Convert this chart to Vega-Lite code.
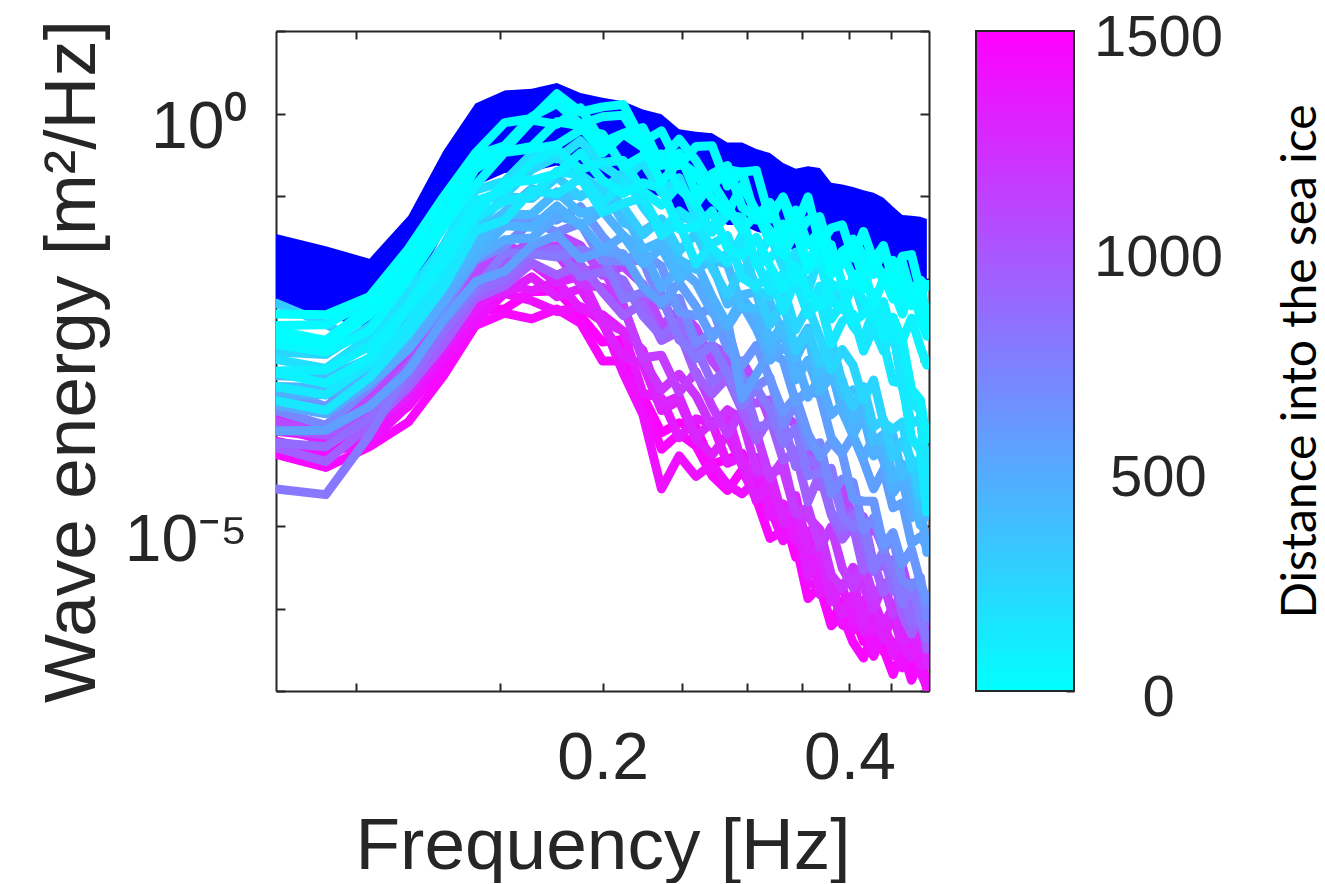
{
"$schema": "https://vega.github.io/schema/vega-lite/v6.json",
"background": "white",
"padding": {"left": 36, "top": 9, "right": 8, "bottom": 0},
"config": {
  "view": {"stroke": null},
  "font": "Liberation Sans",
  "axis": {"grid": false, "domainColor": "#262626", "domainWidth": 2, "tickColor": "#262626", "tickWidth": 2, "labelColor": "#262626", "titleColor": "#262626", "labelFont": "Liberation Sans", "titleFont": "Liberation Sans", "titleFontWeight": "normal", "labelOverlap": false, "labelFlush": false}
},
"datasets": {
"band": [
{"f":0.08,"hi":-1.46,"lo":-2.31},{"f":0.092,"hi":-1.61,"lo":-2.46},{"f":0.104,"hi":-1.76,"lo":-2.61},{"f":0.116,"hi":-1.24,"lo":-2.24},{"f":0.128,"hi":-0.45,"lo":-1.45},{"f":0.14,"hi":0.12,"lo":-0.88},{"f":0.152,"hi":0.28,"lo":-0.72},{"f":0.164,"hi":0.30,"lo":-0.70},{"f":0.176,"hi":0.37,"lo":-0.63},{"f":0.188,"hi":0.25,"lo":-0.75},{"f":0.2,"hi":0.19,"lo":-0.81},{"f":0.212,"hi":0.15,"lo":-0.85},{"f":0.224,"hi":0.05,"lo":-0.95},{"f":0.236,"hi":-0.01,"lo":-1.01},{"f":0.248,"hi":-0.19,"lo":-1.19},{"f":0.26,"hi":-0.22,"lo":-1.22},{"f":0.272,"hi":-0.24,"lo":-1.24},{"f":0.284,"hi":-0.35,"lo":-1.35},{"f":0.296,"hi":-0.35,"lo":-1.35},{"f":0.308,"hi":-0.43,"lo":-1.43},{"f":0.32,"hi":-0.48,"lo":-1.48},{"f":0.332,"hi":-0.60,"lo":-1.60},{"f":0.344,"hi":-0.67,"lo":-1.67},{"f":0.356,"hi":-0.64,"lo":-1.64},{"f":0.368,"hi":-0.66,"lo":-1.66},{"f":0.38,"hi":-0.84,"lo":-1.84},{"f":0.392,"hi":-0.86,"lo":-1.86},{"f":0.404,"hi":-0.89,"lo":-1.89},{"f":0.416,"hi":-0.93,"lo":-1.93},{"f":0.428,"hi":-0.96,"lo":-1.96},{"f":0.44,"hi":-1.02,"lo":-2.02},{"f":0.452,"hi":-1.13,"lo":-2.13},{"f":0.464,"hi":-1.23,"lo":-2.23},{"f":0.476,"hi":-1.24,"lo":-2.24},{"f":0.488,"hi":-1.25,"lo":-2.25},{"f":0.497,"hi":-1.28,"lo":-2.28}
],
"bar": [{"lo": 0, "hi": 1500}],
"spectra": [
{"d":1500,"f":0.08,"e":-3.98},{"d":1500,"f":0.092,"e":-4.07},{"d":1500,"f":0.104,"e":-3.85},{"d":1500,"f":0.116,"e":-3.55},{"d":1500,"f":0.128,"e":-3.03},{"d":1500,"f":0.14,"e":-2.39},{"d":1500,"f":0.152,"e":-2.37},{"d":1500,"f":0.164,"e":-2.16},{"d":1500,"f":0.176,"e":-2.15},{"d":1500,"f":0.188,"e":-2.45},{"d":1500,"f":0.2,"e":-2.77},{"d":1500,"f":0.212,"e":-2.74},{"d":1500,"f":0.224,"e":-3.42},{"d":1500,"f":0.236,"e":-3.87},{"d":1500,"f":0.248,"e":-3.75},{"d":1500,"f":0.26,"e":-3.80},{"d":1500,"f":0.272,"e":-4.25},{"d":1500,"f":0.284,"e":-4.19},{"d":1500,"f":0.296,"e":-4.12},{"d":1500,"f":0.308,"e":-4.70},{"d":1500,"f":0.32,"e":-4.88},{"d":1500,"f":0.332,"e":-4.83},{"d":1500,"f":0.344,"e":-5.38},{"d":1500,"f":0.356,"e":-5.28},{"d":1500,"f":0.368,"e":-5.74},{"d":1500,"f":0.38,"e":-6.17},{"d":1500,"f":0.392,"e":-5.91},{"d":1500,"f":0.404,"e":-6.05},{"d":1500,"f":0.416,"e":-6.40},{"d":1500,"f":0.428,"e":-6.09},{"d":1500,"f":0.44,"e":-6.52},{"d":1500,"f":0.452,"e":-6.53},{"d":1500,"f":0.464,"e":-6.31},{"d":1500,"f":0.476,"e":-6.77},{"d":1500,"f":0.488,"e":-6.56},{"d":1500,"f":0.497,"e":-6.95},
{"d":1450,"f":0.08,"e":-4.13},{"d":1450,"f":0.092,"e":-4.29},{"d":1450,"f":0.104,"e":-4.04},{"d":1450,"f":0.116,"e":-3.74},{"d":1450,"f":0.128,"e":-3.18},{"d":1450,"f":0.14,"e":-2.57},{"d":1450,"f":0.152,"e":-2.42},{"d":1450,"f":0.164,"e":-2.49},{"d":1450,"f":0.176,"e":-2.37},{"d":1450,"f":0.188,"e":-2.54},{"d":1450,"f":0.2,"e":-3.00},{"d":1450,"f":0.212,"e":-3.00},{"d":1450,"f":0.224,"e":-3.46},{"d":1450,"f":0.236,"e":-4.07},{"d":1450,"f":0.248,"e":-3.88},{"d":1450,"f":0.26,"e":-4.03},{"d":1450,"f":0.272,"e":-4.39},{"d":1450,"f":0.284,"e":-4.57},{"d":1450,"f":0.296,"e":-4.32},{"d":1450,"f":0.308,"e":-4.67},{"d":1450,"f":0.32,"e":-5.15},{"d":1450,"f":0.332,"e":-5.06},{"d":1450,"f":0.344,"e":-5.21},{"d":1450,"f":0.356,"e":-5.88},{"d":1450,"f":0.368,"e":-5.73},{"d":1450,"f":0.38,"e":-6.21},{"d":1450,"f":0.392,"e":-6.08},{"d":1450,"f":0.404,"e":-6.41},{"d":1450,"f":0.416,"e":-6.60},{"d":1450,"f":0.428,"e":-6.29},{"d":1450,"f":0.44,"e":-6.49},{"d":1450,"f":0.452,"e":-6.80},{"d":1450,"f":0.464,"e":-6.51},{"d":1450,"f":0.476,"e":-6.87},{"d":1450,"f":0.488,"e":-6.62},{"d":1450,"f":0.497,"e":-6.98},
{"d":1400,"f":0.08,"e":-3.97},{"d":1400,"f":0.092,"e":-4.12},{"d":1400,"f":0.104,"e":-3.98},{"d":1400,"f":0.116,"e":-3.54},{"d":1400,"f":0.128,"e":-2.98},{"d":1400,"f":0.14,"e":-2.52},{"d":1400,"f":0.152,"e":-2.18},{"d":1400,"f":0.164,"e":-2.27},{"d":1400,"f":0.176,"e":-2.40},{"d":1400,"f":0.188,"e":-2.34},{"d":1400,"f":0.2,"e":-2.52},{"d":1400,"f":0.212,"e":-3.15},{"d":1400,"f":0.224,"e":-3.65},{"d":1400,"f":0.236,"e":-4.55},{"d":1400,"f":0.248,"e":-4.15},{"d":1400,"f":0.26,"e":-4.40},{"d":1400,"f":0.272,"e":-4.25},{"d":1400,"f":0.284,"e":-4.50},{"d":1400,"f":0.296,"e":-4.61},{"d":1400,"f":0.308,"e":-4.45},{"d":1400,"f":0.32,"e":-4.77},{"d":1400,"f":0.332,"e":-5.18},{"d":1400,"f":0.344,"e":-4.99},{"d":1400,"f":0.356,"e":-5.69},{"d":1400,"f":0.368,"e":-5.73},{"d":1400,"f":0.38,"e":-5.66},{"d":1400,"f":0.392,"e":-6.20},{"d":1400,"f":0.404,"e":-6.26},{"d":1400,"f":0.416,"e":-6.09},{"d":1400,"f":0.428,"e":-6.58},{"d":1400,"f":0.44,"e":-6.27},{"d":1400,"f":0.452,"e":-6.42},{"d":1400,"f":0.464,"e":-6.72},{"d":1400,"f":0.476,"e":-6.38},{"d":1400,"f":0.488,"e":-6.77},{"d":1400,"f":0.497,"e":-6.95},
{"d":1350,"f":0.08,"e":-3.85},{"d":1350,"f":0.092,"e":-3.92},{"d":1350,"f":0.104,"e":-3.82},{"d":1350,"f":0.116,"e":-3.42},{"d":1350,"f":0.128,"e":-2.86},{"d":1350,"f":0.14,"e":-2.38},{"d":1350,"f":0.152,"e":-2.07},{"d":1350,"f":0.164,"e":-2.15},{"d":1350,"f":0.176,"e":-2.03},{"d":1350,"f":0.188,"e":-2.37},{"d":1350,"f":0.2,"e":-2.44},{"d":1350,"f":0.212,"e":-2.64},{"d":1350,"f":0.224,"e":-3.39},{"d":1350,"f":0.236,"e":-3.45},{"d":1350,"f":0.248,"e":-3.93},{"d":1350,"f":0.26,"e":-3.70},{"d":1350,"f":0.272,"e":-3.75},{"d":1350,"f":0.284,"e":-4.24},{"d":1350,"f":0.296,"e":-4.16},{"d":1350,"f":0.308,"e":-4.17},{"d":1350,"f":0.32,"e":-4.88},{"d":1350,"f":0.332,"e":-4.73},{"d":1350,"f":0.344,"e":-5.18},{"d":1350,"f":0.356,"e":-5.06},{"d":1350,"f":0.368,"e":-5.83},{"d":1350,"f":0.38,"e":-5.71},{"d":1350,"f":0.392,"e":-5.73},{"d":1350,"f":0.404,"e":-6.18},{"d":1350,"f":0.416,"e":-5.90},{"d":1350,"f":0.428,"e":-6.29},{"d":1350,"f":0.44,"e":-6.12},{"d":1350,"f":0.452,"e":-6.57},{"d":1350,"f":0.464,"e":-6.27},{"d":1350,"f":0.476,"e":-6.25},{"d":1350,"f":0.488,"e":-6.69},{"d":1350,"f":0.497,"e":-6.58},
{"d":1320,"f":0.08,"e":-3.80},{"d":1320,"f":0.092,"e":-3.97},{"d":1320,"f":0.104,"e":-3.71},{"d":1320,"f":0.116,"e":-3.37},{"d":1320,"f":0.128,"e":-2.85},{"d":1320,"f":0.14,"e":-2.23},{"d":1320,"f":0.152,"e":-2.18},{"d":1320,"f":0.164,"e":-1.98},{"d":1320,"f":0.176,"e":-2.22},{"d":1320,"f":0.188,"e":-2.12},{"d":1320,"f":0.2,"e":-2.55},{"d":1320,"f":0.212,"e":-2.95},{"d":1320,"f":0.224,"e":-3.04},{"d":1320,"f":0.236,"e":-3.60},{"d":1320,"f":0.248,"e":-3.48},{"d":1320,"f":0.26,"e":-3.95},{"d":1320,"f":0.272,"e":-4.14},{"d":1320,"f":0.284,"e":-3.89},{"d":1320,"f":0.296,"e":-4.27},{"d":1320,"f":0.308,"e":-4.68},{"d":1320,"f":0.32,"e":-4.47},{"d":1320,"f":0.332,"e":-4.98},{"d":1320,"f":0.344,"e":-4.89},{"d":1320,"f":0.356,"e":-5.61},{"d":1320,"f":0.368,"e":-5.34},{"d":1320,"f":0.38,"e":-5.82},{"d":1320,"f":0.392,"e":-6.08},{"d":1320,"f":0.404,"e":-5.83},{"d":1320,"f":0.416,"e":-6.29},{"d":1320,"f":0.428,"e":-6.08},{"d":1320,"f":0.44,"e":-6.37},{"d":1320,"f":0.452,"e":-6.08},{"d":1320,"f":0.464,"e":-6.46},{"d":1320,"f":0.476,"e":-6.60},{"d":1320,"f":0.488,"e":-6.34},{"d":1320,"f":0.497,"e":-6.69},
{"d":1280,"f":0.08,"e":-3.70},{"d":1280,"f":0.092,"e":-3.88},{"d":1280,"f":0.104,"e":-3.60},{"d":1280,"f":0.116,"e":-3.25},{"d":1280,"f":0.128,"e":-2.76},{"d":1280,"f":0.14,"e":-2.12},{"d":1280,"f":0.152,"e":-2.05},{"d":1280,"f":0.164,"e":-1.82},{"d":1280,"f":0.176,"e":-2.05},{"d":1280,"f":0.188,"e":-1.97},{"d":1280,"f":0.2,"e":-2.52},{"d":1280,"f":0.212,"e":-2.64},{"d":1280,"f":0.224,"e":-2.87},{"d":1280,"f":0.236,"e":-3.52},{"d":1280,"f":0.248,"e":-3.43},{"d":1280,"f":0.26,"e":-3.92},{"d":1280,"f":0.272,"e":-3.74},{"d":1280,"f":0.284,"e":-3.64},{"d":1280,"f":0.296,"e":-4.24},{"d":1280,"f":0.308,"e":-4.38},{"d":1280,"f":0.32,"e":-4.33},{"d":1280,"f":0.332,"e":-4.91},{"d":1280,"f":0.344,"e":-4.63},{"d":1280,"f":0.356,"e":-5.29},{"d":1280,"f":0.368,"e":-5.31},{"d":1280,"f":0.38,"e":-5.92},{"d":1280,"f":0.392,"e":-5.70},{"d":1280,"f":0.404,"e":-5.66},{"d":1280,"f":0.416,"e":-6.15},{"d":1280,"f":0.428,"e":-5.91},{"d":1280,"f":0.44,"e":-6.20},{"d":1280,"f":0.452,"e":-5.98},{"d":1280,"f":0.464,"e":-6.39},{"d":1280,"f":0.476,"e":-6.38},{"d":1280,"f":0.488,"e":-6.21},{"d":1280,"f":0.497,"e":-6.66},
{"d":1200,"f":0.08,"e":-3.54},{"d":1200,"f":0.092,"e":-3.59},{"d":1200,"f":0.104,"e":-3.42},{"d":1200,"f":0.116,"e":-3.10},{"d":1200,"f":0.128,"e":-2.49},{"d":1200,"f":0.14,"e":-1.96},{"d":1200,"f":0.152,"e":-1.90},{"d":1200,"f":0.164,"e":-1.68},{"d":1200,"f":0.176,"e":-1.70},{"d":1200,"f":0.188,"e":-2.07},{"d":1200,"f":0.2,"e":-2.11},{"d":1200,"f":0.212,"e":-2.32},{"d":1200,"f":0.224,"e":-2.99},{"d":1200,"f":0.236,"e":-3.35},{"d":1200,"f":0.248,"e":-3.16},{"d":1200,"f":0.26,"e":-3.42},{"d":1200,"f":0.272,"e":-3.80},{"d":1200,"f":0.284,"e":-3.59},{"d":1200,"f":0.296,"e":-3.71},{"d":1200,"f":0.308,"e":-4.32},{"d":1200,"f":0.32,"e":-4.35},{"d":1200,"f":0.332,"e":-4.31},{"d":1200,"f":0.344,"e":-4.86},{"d":1200,"f":0.356,"e":-4.89},{"d":1200,"f":0.368,"e":-5.04},{"d":1200,"f":0.38,"e":-5.59},{"d":1200,"f":0.392,"e":-5.76},{"d":1200,"f":0.404,"e":-5.50},{"d":1200,"f":0.416,"e":-5.74},{"d":1200,"f":0.428,"e":-6.01},{"d":1200,"f":0.44,"e":-5.70},{"d":1200,"f":0.452,"e":-6.08},{"d":1200,"f":0.464,"e":-5.89},{"d":1200,"f":0.476,"e":-6.28},{"d":1200,"f":0.488,"e":-6.11},{"d":1200,"f":0.497,"e":-6.16},
{"d":1150,"f":0.08,"e":-3.35},{"d":1150,"f":0.092,"e":-3.41},{"d":1150,"f":0.104,"e":-3.33},{"d":1150,"f":0.116,"e":-2.94},{"d":1150,"f":0.128,"e":-2.35},{"d":1150,"f":0.14,"e":-1.89},{"d":1150,"f":0.152,"e":-1.60},{"d":1150,"f":0.164,"e":-1.71},{"d":1150,"f":0.176,"e":-1.60},{"d":1150,"f":0.188,"e":-1.92},{"d":1150,"f":0.2,"e":-1.87},{"d":1150,"f":0.212,"e":-2.35},{"d":1150,"f":0.224,"e":-2.96},{"d":1150,"f":0.236,"e":-2.93},{"d":1150,"f":0.248,"e":-3.38},{"d":1150,"f":0.26,"e":-3.13},{"d":1150,"f":0.272,"e":-3.55},{"d":1150,"f":0.284,"e":-3.89},{"d":1150,"f":0.296,"e":-3.59},{"d":1150,"f":0.308,"e":-3.87},{"d":1150,"f":0.32,"e":-4.42},{"d":1150,"f":0.332,"e":-4.20},{"d":1150,"f":0.344,"e":-4.84},{"d":1150,"f":0.356,"e":-4.78},{"d":1150,"f":0.368,"e":-5.26},{"d":1150,"f":0.38,"e":-5.01},{"d":1150,"f":0.392,"e":-5.51},{"d":1150,"f":0.404,"e":-5.75},{"d":1150,"f":0.416,"e":-5.44},{"d":1150,"f":0.428,"e":-5.86},{"d":1150,"f":0.44,"e":-5.69},{"d":1150,"f":0.452,"e":-6.07},{"d":1150,"f":0.464,"e":-5.74},{"d":1150,"f":0.476,"e":-5.87},{"d":1150,"f":0.488,"e":-6.22},{"d":1150,"f":0.497,"e":-6.01},
{"d":1080,"f":0.08,"e":-3.73},{"d":1080,"f":0.092,"e":-3.89},{"d":1080,"f":0.104,"e":-3.46},{"d":1080,"f":0.116,"e":-3.04},{"d":1080,"f":0.128,"e":-2.48},{"d":1080,"f":0.14,"e":-1.93},{"d":1080,"f":0.152,"e":-1.68},{"d":1080,"f":0.164,"e":-1.67},{"d":1080,"f":0.176,"e":-1.46},{"d":1080,"f":0.188,"e":-1.60},{"d":1080,"f":0.2,"e":-1.96},{"d":1080,"f":0.212,"e":-1.85},{"d":1080,"f":0.224,"e":-2.07},{"d":1080,"f":0.236,"e":-2.57},{"d":1080,"f":0.248,"e":-2.39},{"d":1080,"f":0.26,"e":-2.60},{"d":1080,"f":0.272,"e":-3.00},{"d":1080,"f":0.284,"e":-3.23},{"d":1080,"f":0.296,"e":-3.00},{"d":1080,"f":0.308,"e":-3.30},{"d":1080,"f":0.32,"e":-3.72},{"d":1080,"f":0.332,"e":-3.63},{"d":1080,"f":0.344,"e":-3.78},{"d":1080,"f":0.356,"e":-4.33},{"d":1080,"f":0.368,"e":-4.11},{"d":1080,"f":0.38,"e":-4.60},{"d":1080,"f":0.392,"e":-4.51},{"d":1080,"f":0.404,"e":-4.92},{"d":1080,"f":0.416,"e":-5.20},{"d":1080,"f":0.428,"e":-4.98},{"d":1080,"f":0.44,"e":-5.28},{"d":1080,"f":0.452,"e":-5.66},{"d":1080,"f":0.464,"e":-5.48},{"d":1080,"f":0.476,"e":-5.93},{"d":1080,"f":0.488,"e":-5.73},{"d":1080,"f":0.497,"e":-6.29},
{"d":1000,"f":0.08,"e":-3.82},{"d":1000,"f":0.092,"e":-3.90},{"d":1000,"f":0.104,"e":-3.61},{"d":1000,"f":0.116,"e":-3.05},{"d":1000,"f":0.128,"e":-2.53},{"d":1000,"f":0.14,"e":-2.10},{"d":1000,"f":0.152,"e":-1.79},{"d":1000,"f":0.164,"e":-1.52},{"d":1000,"f":0.176,"e":-1.67},{"d":1000,"f":0.188,"e":-1.71},{"d":1000,"f":0.2,"e":-1.65},{"d":1000,"f":0.212,"e":-2.14},{"d":1000,"f":0.224,"e":-2.28},{"d":1000,"f":0.236,"e":-2.18},{"d":1000,"f":0.248,"e":-2.74},{"d":1000,"f":0.26,"e":-2.89},{"d":1000,"f":0.272,"e":-2.81},{"d":1000,"f":0.284,"e":-2.92},{"d":1000,"f":0.296,"e":-3.49},{"d":1000,"f":0.308,"e":-3.51},{"d":1000,"f":0.32,"e":-3.47},{"d":1000,"f":0.332,"e":-3.92},{"d":1000,"f":0.344,"e":-4.13},{"d":1000,"f":0.356,"e":-3.94},{"d":1000,"f":0.368,"e":-4.52},{"d":1000,"f":0.38,"e":-4.41},{"d":1000,"f":0.392,"e":-4.86},{"d":1000,"f":0.404,"e":-4.81},{"d":1000,"f":0.416,"e":-4.89},{"d":1000,"f":0.428,"e":-5.47},{"d":1000,"f":0.44,"e":-5.49},{"d":1000,"f":0.452,"e":-5.41},{"d":1000,"f":0.464,"e":-5.89},{"d":1000,"f":0.476,"e":-5.74},{"d":1000,"f":0.488,"e":-6.22},{"d":1000,"f":0.497,"e":-5.98},
{"d":950,"f":0.08,"e":-4.05},{"d":950,"f":0.092,"e":-4.22},{"d":950,"f":0.104,"e":-3.78},{"d":950,"f":0.116,"e":-3.32},{"d":950,"f":0.128,"e":-2.80},{"d":950,"f":0.14,"e":-2.24},{"d":950,"f":0.152,"e":-2.09},{"d":950,"f":0.164,"e":-1.81},{"d":950,"f":0.176,"e":-1.96},{"d":950,"f":0.188,"e":-1.83},{"d":950,"f":0.2,"e":-2.16},{"d":950,"f":0.212,"e":-2.45},{"d":950,"f":0.224,"e":-2.30},{"d":950,"f":0.236,"e":-2.75},{"d":950,"f":0.248,"e":-2.64},{"d":950,"f":0.26,"e":-3.17},{"d":950,"f":0.272,"e":-3.40},{"d":950,"f":0.284,"e":-3.20},{"d":950,"f":0.296,"e":-3.60},{"d":950,"f":0.308,"e":-3.96},{"d":950,"f":0.32,"e":-3.69},{"d":950,"f":0.332,"e":-4.20},{"d":950,"f":0.344,"e":-4.11},{"d":950,"f":0.356,"e":-4.71},{"d":950,"f":0.368,"e":-4.37},{"d":950,"f":0.38,"e":-4.86},{"d":950,"f":0.392,"e":-5.16},{"d":950,"f":0.404,"e":-4.99},{"d":950,"f":0.416,"e":-5.54},{"d":950,"f":0.428,"e":-5.42},{"d":950,"f":0.44,"e":-5.81},{"d":950,"f":0.452,"e":-5.59},{"d":950,"f":0.464,"e":-6.08},{"d":950,"f":0.476,"e":-6.31},{"d":950,"f":0.488,"e":-6.10},{"d":950,"f":0.497,"e":-6.49},
{"d":870,"f":0.08,"e":-3.99},{"d":870,"f":0.092,"e":-4.04},{"d":870,"f":0.104,"e":-3.69},{"d":870,"f":0.116,"e":-3.25},{"d":870,"f":0.128,"e":-2.64},{"d":870,"f":0.14,"e":-2.17},{"d":870,"f":0.152,"e":-2.01},{"d":870,"f":0.164,"e":-1.71},{"d":870,"f":0.176,"e":-1.64},{"d":870,"f":0.188,"e":-1.98},{"d":870,"f":0.2,"e":-1.92},{"d":870,"f":0.212,"e":-2.02},{"d":870,"f":0.224,"e":-2.45},{"d":870,"f":0.236,"e":-2.70},{"d":870,"f":0.248,"e":-2.52},{"d":870,"f":0.26,"e":-2.84},{"d":870,"f":0.272,"e":-3.26},{"d":870,"f":0.284,"e":-3.10},{"d":870,"f":0.296,"e":-3.24},{"d":870,"f":0.308,"e":-3.80},{"d":870,"f":0.32,"e":-3.77},{"d":870,"f":0.332,"e":-3.73},{"d":870,"f":0.344,"e":-4.28},{"d":870,"f":0.356,"e":-4.19},{"d":870,"f":0.368,"e":-4.27},{"d":870,"f":0.38,"e":-4.83},{"d":870,"f":0.392,"e":-5.04},{"d":870,"f":0.404,"e":-4.86},{"d":870,"f":0.416,"e":-5.19},{"d":870,"f":0.428,"e":-5.55},{"d":870,"f":0.44,"e":-5.34},{"d":870,"f":0.452,"e":-5.79},{"d":870,"f":0.464,"e":-5.71},{"d":870,"f":0.476,"e":-6.19},{"d":870,"f":0.488,"e":-6.07},{"d":870,"f":0.497,"e":-6.16},
{"d":800,"f":0.08,"e":-4.55},{"d":800,"f":0.092,"e":-4.62},{"d":800,"f":0.104,"e":-3.90},{"d":800,"f":0.116,"e":-3.09},{"d":800,"f":0.128,"e":-2.53},{"d":800,"f":0.14,"e":-2.13},{"d":800,"f":0.152,"e":-1.69},{"d":800,"f":0.164,"e":-1.70},{"d":800,"f":0.176,"e":-1.74},{"d":800,"f":0.188,"e":-1.65},{"d":800,"f":0.2,"e":-1.73},{"d":800,"f":0.212,"e":-2.25},{"d":800,"f":0.224,"e":-2.17},{"d":800,"f":0.236,"e":-2.23},{"d":800,"f":0.248,"e":-2.72},{"d":800,"f":0.26,"e":-2.97},{"d":800,"f":0.272,"e":-2.80},{"d":800,"f":0.284,"e":-3.15},{"d":800,"f":0.296,"e":-3.54},{"d":800,"f":0.308,"e":-3.33},{"d":800,"f":0.32,"e":-3.59},{"d":800,"f":0.332,"e":-4.00},{"d":800,"f":0.344,"e":-3.81},{"d":800,"f":0.356,"e":-4.39},{"d":800,"f":0.368,"e":-4.36},{"d":800,"f":0.38,"e":-4.30},{"d":800,"f":0.392,"e":-4.88},{"d":800,"f":0.404,"e":-5.02},{"d":800,"f":0.416,"e":-4.94},{"d":800,"f":0.428,"e":-5.52},{"d":800,"f":0.44,"e":-5.31},{"d":800,"f":0.452,"e":-5.53},{"d":800,"f":0.464,"e":-5.94},{"d":800,"f":0.476,"e":-5.69},{"d":800,"f":0.488,"e":-6.13},{"d":800,"f":0.497,"e":-6.36},
{"d":700,"f":0.08,"e":-3.60},{"d":700,"f":0.092,"e":-3.78},{"d":700,"f":0.104,"e":-3.32},{"d":700,"f":0.116,"e":-2.85},{"d":700,"f":0.128,"e":-2.36},{"d":700,"f":0.14,"e":-1.78},{"d":700,"f":0.152,"e":-1.61},{"d":700,"f":0.164,"e":-1.30},{"d":700,"f":0.176,"e":-1.44},{"d":700,"f":0.188,"e":-1.33},{"d":700,"f":0.2,"e":-1.78},{"d":700,"f":0.212,"e":-1.79},{"d":700,"f":0.224,"e":-1.78},{"d":700,"f":0.236,"e":-2.32},{"d":700,"f":0.248,"e":-2.24},{"d":700,"f":0.26,"e":-2.79},{"d":700,"f":0.272,"e":-2.65},{"d":700,"f":0.284,"e":-2.60},{"d":700,"f":0.296,"e":-3.22},{"d":700,"f":0.308,"e":-3.31},{"d":700,"f":0.32,"e":-3.20},{"d":700,"f":0.332,"e":-3.78},{"d":700,"f":0.344,"e":-3.50},{"d":700,"f":0.356,"e":-4.04},{"d":700,"f":0.368,"e":-3.99},{"d":700,"f":0.38,"e":-4.61},{"d":700,"f":0.392,"e":-4.43},{"d":700,"f":0.404,"e":-4.47},{"d":700,"f":0.416,"e":-5.05},{"d":700,"f":0.428,"e":-4.90},{"d":700,"f":0.44,"e":-5.29},{"d":700,"f":0.452,"e":-5.14},{"d":700,"f":0.464,"e":-5.66},{"d":700,"f":0.476,"e":-5.74},{"d":700,"f":0.488,"e":-5.62},{"d":700,"f":0.497,"e":-6.11},
{"d":620,"f":0.08,"e":-3.36},{"d":620,"f":0.092,"e":-3.55},{"d":620,"f":0.104,"e":-3.18},{"d":620,"f":0.116,"e":-2.64},{"d":620,"f":0.128,"e":-2.17},{"d":620,"f":0.14,"e":-1.66},{"d":620,"f":0.152,"e":-1.26},{"d":620,"f":0.164,"e":-1.28},{"d":620,"f":0.176,"e":-1.29},{"d":620,"f":0.188,"e":-1.13},{"d":620,"f":0.2,"e":-1.49},{"d":620,"f":0.212,"e":-1.77},{"d":620,"f":0.224,"e":-1.70},{"d":620,"f":0.236,"e":-1.85},{"d":620,"f":0.248,"e":-2.41},{"d":620,"f":0.26,"e":-2.45},{"d":620,"f":0.272,"e":-2.35},{"d":620,"f":0.284,"e":-2.85},{"d":620,"f":0.296,"e":-3.05},{"d":620,"f":0.308,"e":-2.81},{"d":620,"f":0.32,"e":-3.22},{"d":620,"f":0.332,"e":-3.62},{"d":620,"f":0.344,"e":-3.43},{"d":620,"f":0.356,"e":-3.88},{"d":620,"f":0.368,"e":-4.16},{"d":620,"f":0.38,"e":-3.98},{"d":620,"f":0.392,"e":-4.13},{"d":620,"f":0.404,"e":-4.67},{"d":620,"f":0.416,"e":-4.70},{"d":620,"f":0.428,"e":-4.70},{"d":620,"f":0.44,"e":-5.23},{"d":620,"f":0.452,"e":-5.08},{"d":620,"f":0.464,"e":-5.46},{"d":620,"f":0.476,"e":-5.28},{"d":620,"f":0.488,"e":-5.68},{"d":620,"f":0.497,"e":-5.91},
{"d":560,"f":0.08,"e":-3.85},{"d":560,"f":0.092,"e":-3.84},{"d":560,"f":0.104,"e":-3.55},{"d":560,"f":0.116,"e":-3.12},{"d":560,"f":0.128,"e":-2.50},{"d":560,"f":0.14,"e":-2.04},{"d":560,"f":0.152,"e":-1.91},{"d":560,"f":0.164,"e":-1.60},{"d":560,"f":0.176,"e":-1.47},{"d":560,"f":0.188,"e":-1.76},{"d":560,"f":0.2,"e":-1.67},{"d":560,"f":0.212,"e":-1.70},{"d":560,"f":0.224,"e":-2.10},{"d":560,"f":0.236,"e":-2.30},{"d":560,"f":0.248,"e":-2.05},{"d":560,"f":0.26,"e":-2.34},{"d":560,"f":0.272,"e":-2.72},{"d":560,"f":0.284,"e":-2.51},{"d":560,"f":0.296,"e":-3.45},{"d":560,"f":0.308,"e":-3.16},{"d":560,"f":0.32,"e":-2.90},{"d":560,"f":0.332,"e":-2.99},{"d":560,"f":0.344,"e":-3.50},{"d":560,"f":0.356,"e":-3.35},{"d":560,"f":0.368,"e":-3.41},{"d":560,"f":0.38,"e":-3.93},{"d":560,"f":0.392,"e":-4.11},{"d":560,"f":0.404,"e":-3.90},{"d":560,"f":0.416,"e":-4.21},{"d":560,"f":0.428,"e":-4.55},{"d":560,"f":0.44,"e":-4.32},{"d":560,"f":0.452,"e":-4.78},{"d":560,"f":0.464,"e":-4.72},{"d":560,"f":0.476,"e":-5.21},{"d":560,"f":0.488,"e":-5.13},{"d":560,"f":0.497,"e":-5.24},
{"d":500,"f":0.08,"e":-3.54},{"d":500,"f":0.092,"e":-3.64},{"d":500,"f":0.104,"e":-3.27},{"d":500,"f":0.116,"e":-2.86},{"d":500,"f":0.128,"e":-2.29},{"d":500,"f":0.14,"e":-1.75},{"d":500,"f":0.152,"e":-1.53},{"d":500,"f":0.164,"e":-1.51},{"d":500,"f":0.176,"e":-1.24},{"d":500,"f":0.188,"e":-1.33},{"d":500,"f":0.2,"e":-1.66},{"d":500,"f":0.212,"e":-1.48},{"d":500,"f":0.224,"e":-1.67},{"d":500,"f":0.236,"e":-2.12},{"d":500,"f":0.248,"e":-1.87},{"d":500,"f":0.26,"e":-2.05},{"d":500,"f":0.272,"e":-2.41},{"d":500,"f":0.284,"e":-2.59},{"d":500,"f":0.296,"e":-2.31},{"d":500,"f":0.308,"e":-2.61},{"d":500,"f":0.32,"e":-2.99},{"d":500,"f":0.332,"e":-2.84},{"d":500,"f":0.344,"e":-2.95},{"d":500,"f":0.356,"e":-3.44},{"d":500,"f":0.368,"e":-3.20},{"d":500,"f":0.38,"e":-3.65},{"d":500,"f":0.392,"e":-3.53},{"d":500,"f":0.404,"e":-3.91},{"d":500,"f":0.416,"e":-4.17},{"d":500,"f":0.428,"e":-3.93},{"d":500,"f":0.44,"e":-4.21},{"d":500,"f":0.452,"e":-4.60},{"d":500,"f":0.464,"e":-4.44},{"d":500,"f":0.476,"e":-4.90},{"d":500,"f":0.488,"e":-4.74},{"d":500,"f":0.497,"e":-5.32},
{"d":460,"f":0.08,"e":-3.41},{"d":460,"f":0.092,"e":-3.41},{"d":460,"f":0.104,"e":-3.21},{"d":460,"f":0.116,"e":-2.71},{"d":460,"f":0.128,"e":-2.11},{"d":460,"f":0.14,"e":-1.72},{"d":460,"f":0.152,"e":-1.36},{"d":460,"f":0.164,"e":-1.38},{"d":460,"f":0.176,"e":-1.12},{"d":460,"f":0.188,"e":-1.36},{"d":460,"f":0.2,"e":-1.18},{"d":460,"f":0.212,"e":-1.48},{"d":460,"f":0.224,"e":-1.82},{"d":460,"f":0.236,"e":-1.63},{"d":460,"f":0.248,"e":-2.02},{"d":460,"f":0.26,"e":-1.80},{"d":460,"f":0.272,"e":-2.22},{"d":460,"f":0.284,"e":-2.56},{"d":460,"f":0.296,"e":-2.23},{"d":460,"f":0.308,"e":-2.46},{"d":460,"f":0.32,"e":-2.91},{"d":460,"f":0.332,"e":-2.63},{"d":460,"f":0.344,"e":-3.23},{"d":460,"f":0.356,"e":-2.99},{"d":460,"f":0.368,"e":-3.38},{"d":460,"f":0.38,"e":-3.10},{"d":460,"f":0.392,"e":-3.61},{"d":460,"f":0.404,"e":-3.90},{"d":460,"f":0.416,"e":-3.66},{"d":460,"f":0.428,"e":-4.15},{"d":460,"f":0.44,"e":-4.06},{"d":460,"f":0.452,"e":-4.52},{"d":460,"f":0.464,"e":-4.32},{"d":460,"f":0.476,"e":-4.55},{"d":460,"f":0.488,"e":-4.99},{"d":460,"f":0.497,"e":-4.84},
{"d":420,"f":0.08,"e":-3.31},{"d":420,"f":0.092,"e":-3.32},{"d":420,"f":0.104,"e":-3.10},{"d":420,"f":0.116,"e":-2.59},{"d":420,"f":0.128,"e":-2.02},{"d":420,"f":0.14,"e":-1.61},{"d":420,"f":0.152,"e":-1.23},{"d":420,"f":0.164,"e":-1.22},{"d":420,"f":0.176,"e":-0.95},{"d":420,"f":0.188,"e":-1.21},{"d":420,"f":0.2,"e":-1.15},{"d":420,"f":0.212,"e":-1.17},{"d":420,"f":0.224,"e":-1.65},{"d":420,"f":0.236,"e":-1.55},{"d":420,"f":0.248,"e":-1.97},{"d":420,"f":0.26,"e":-1.77},{"d":420,"f":0.272,"e":-1.82},{"d":420,"f":0.284,"e":-2.31},{"d":420,"f":0.296,"e":-2.20},{"d":420,"f":0.308,"e":-2.16},{"d":420,"f":0.32,"e":-2.77},{"d":420,"f":0.332,"e":-2.56},{"d":420,"f":0.344,"e":-2.97},{"d":420,"f":0.356,"e":-2.67},{"d":420,"f":0.368,"e":-3.35},{"d":420,"f":0.38,"e":-3.20},{"d":420,"f":0.392,"e":-3.23},{"d":420,"f":0.404,"e":-3.73},{"d":420,"f":0.416,"e":-3.52},{"d":420,"f":0.428,"e":-3.98},{"d":420,"f":0.44,"e":-3.89},{"d":420,"f":0.452,"e":-4.42},{"d":420,"f":0.464,"e":-4.25},{"d":420,"f":0.476,"e":-4.33},{"d":420,"f":0.488,"e":-4.86},{"d":420,"f":0.497,"e":-4.81},
{"d":380,"f":0.08,"e":-3.18},{"d":380,"f":0.092,"e":-3.20},{"d":380,"f":0.104,"e":-2.97},{"d":380,"f":0.116,"e":-2.42},{"d":380,"f":0.128,"e":-1.89},{"d":380,"f":0.14,"e":-1.47},{"d":380,"f":0.152,"e":-1.19},{"d":380,"f":0.164,"e":-0.91},{"d":380,"f":0.176,"e":-1.00},{"d":380,"f":0.188,"e":-0.99},{"d":380,"f":0.2,"e":-0.90},{"d":380,"f":0.212,"e":-1.32},{"d":380,"f":0.224,"e":-1.43},{"d":380,"f":0.236,"e":-1.28},{"d":380,"f":0.248,"e":-1.77},{"d":380,"f":0.26,"e":-1.89},{"d":380,"f":0.272,"e":-1.77},{"d":380,"f":0.284,"e":-1.83},{"d":380,"f":0.296,"e":-2.35},{"d":380,"f":0.308,"e":-2.37},{"d":380,"f":0.32,"e":-2.29},{"d":380,"f":0.332,"e":-2.68},{"d":380,"f":0.344,"e":-2.85},{"d":380,"f":0.356,"e":-2.60},{"d":380,"f":0.368,"e":-3.16},{"d":380,"f":0.38,"e":-3.01},{"d":380,"f":0.392,"e":-3.43},{"d":380,"f":0.404,"e":-3.35},{"d":380,"f":0.416,"e":-3.41},{"d":380,"f":0.428,"e":-3.97},{"d":380,"f":0.44,"e":-3.97},{"d":380,"f":0.452,"e":-3.90},{"d":380,"f":0.464,"e":-4.40},{"d":380,"f":0.476,"e":-4.26},{"d":380,"f":0.488,"e":-4.78},{"d":380,"f":0.497,"e":-4.56},
{"d":300,"f":0.08,"e":-2.30},{"d":300,"f":0.092,"e":-2.55},{"d":300,"f":0.104,"e":-2.86},{"d":300,"f":0.116,"e":-2.36},{"d":300,"f":0.128,"e":-1.76},{"d":300,"f":0.14,"e":-1.37},{"d":300,"f":0.152,"e":-1.01},{"d":300,"f":0.164,"e":-1.03},{"d":300,"f":0.176,"e":-0.77},{"d":300,"f":0.188,"e":-1.01},{"d":300,"f":0.2,"e":-0.83},{"d":300,"f":0.212,"e":-1.13},{"d":300,"f":0.224,"e":-1.47},{"d":300,"f":0.236,"e":-1.28},{"d":300,"f":0.248,"e":-1.67},{"d":300,"f":0.26,"e":-1.45},{"d":300,"f":0.272,"e":-1.87},{"d":300,"f":0.284,"e":-2.21},{"d":300,"f":0.296,"e":-1.88},{"d":300,"f":0.308,"e":-2.11},{"d":300,"f":0.32,"e":-2.56},{"d":300,"f":0.332,"e":-2.28},{"d":300,"f":0.344,"e":-2.88},{"d":300,"f":0.356,"e":-2.64},{"d":300,"f":0.368,"e":-3.03},{"d":300,"f":0.38,"e":-2.75},{"d":300,"f":0.392,"e":-3.26},{"d":300,"f":0.404,"e":-3.55},{"d":300,"f":0.416,"e":-3.31},{"d":300,"f":0.428,"e":-3.80},{"d":300,"f":0.44,"e":-3.71},{"d":300,"f":0.452,"e":-4.17},{"d":300,"f":0.464,"e":-3.97},{"d":300,"f":0.476,"e":-4.20},{"d":300,"f":0.488,"e":-4.64},{"d":300,"f":0.497,"e":-4.49},
{"d":240,"f":0.08,"e":-2.89},{"d":240,"f":0.092,"e":-2.92},{"d":240,"f":0.104,"e":-2.58},{"d":240,"f":0.116,"e":-2.17},{"d":240,"f":0.128,"e":-1.64},{"d":240,"f":0.14,"e":-1.07},{"d":240,"f":0.152,"e":-0.98},{"d":240,"f":0.164,"e":-0.68},{"d":240,"f":0.176,"e":-0.52},{"d":240,"f":0.188,"e":-0.74},{"d":240,"f":0.2,"e":-0.93},{"d":240,"f":0.212,"e":-0.72},{"d":240,"f":0.224,"e":-1.13},{"d":240,"f":0.236,"e":-1.42},{"d":240,"f":0.248,"e":-1.24},{"d":240,"f":0.26,"e":-1.32},{"d":240,"f":0.272,"e":-1.77},{"d":240,"f":0.284,"e":-1.71},{"d":240,"f":0.296,"e":-1.61},{"d":240,"f":0.308,"e":-2.14},{"d":240,"f":0.32,"e":-2.22},{"d":240,"f":0.332,"e":-2.11},{"d":240,"f":0.344,"e":-2.62},{"d":240,"f":0.356,"e":-2.34},{"d":240,"f":0.368,"e":-2.71},{"d":240,"f":0.38,"e":-3.11},{"d":240,"f":0.392,"e":-2.86},{"d":240,"f":0.404,"e":-3.05},{"d":240,"f":0.416,"e":-3.47},{"d":240,"f":0.428,"e":-3.23},{"d":240,"f":0.44,"e":-3.74},{"d":240,"f":0.452,"e":-3.83},{"d":240,"f":0.464,"e":-3.74},{"d":240,"f":0.476,"e":-4.30},{"d":240,"f":0.488,"e":-4.18},{"d":240,"f":0.497,"e":-4.29},
{"d":180,"f":0.08,"e":-2.98},{"d":180,"f":0.092,"e":-3.09},{"d":180,"f":0.104,"e":-2.71},{"d":180,"f":0.116,"e":-2.19},{"d":180,"f":0.128,"e":-1.60},{"d":180,"f":0.14,"e":-0.93},{"d":180,"f":0.152,"e":-0.82},{"d":180,"f":0.164,"e":-0.49},{"d":180,"f":0.176,"e":-0.55},{"d":180,"f":0.188,"e":-0.33},{"d":180,"f":0.2,"e":-0.63},{"d":180,"f":0.212,"e":-0.80},{"d":180,"f":0.224,"e":-0.59},{"d":180,"f":0.236,"e":-0.96},{"d":180,"f":0.248,"e":-0.78},{"d":180,"f":0.26,"e":-1.25},{"d":180,"f":0.272,"e":-1.38},{"d":180,"f":0.284,"e":-1.13},{"d":180,"f":0.296,"e":-1.42},{"d":180,"f":0.308,"e":-1.80},{"d":180,"f":0.32,"e":-1.47},{"d":180,"f":0.332,"e":-1.86},{"d":180,"f":0.344,"e":-1.68},{"d":180,"f":0.356,"e":-2.16},{"d":180,"f":0.368,"e":-1.70},{"d":180,"f":0.38,"e":-2.10},{"d":180,"f":0.392,"e":-2.30},{"d":180,"f":0.404,"e":-2.00},{"d":180,"f":0.416,"e":-2.42},{"d":180,"f":0.428,"e":-2.17},{"d":180,"f":0.44,"e":-2.75},{"d":180,"f":0.452,"e":-2.63},{"d":180,"f":0.464,"e":-3.32},{"d":180,"f":0.476,"e":-3.76},{"d":180,"f":0.488,"e":-3.70},{"d":180,"f":0.497,"e":-4.28},
{"d":150,"f":0.08,"e":-3.48},{"d":150,"f":0.092,"e":-3.60},{"d":150,"f":0.104,"e":-3.20},{"d":150,"f":0.116,"e":-2.67},{"d":150,"f":0.128,"e":-2.11},{"d":150,"f":0.14,"e":-1.42},{"d":150,"f":0.152,"e":-1.29},{"d":150,"f":0.164,"e":-0.93},{"d":150,"f":0.176,"e":-0.98},{"d":150,"f":0.188,"e":-0.78},{"d":150,"f":0.2,"e":-1.20},{"d":150,"f":0.212,"e":-1.09},{"d":150,"f":0.224,"e":-1.02},{"d":150,"f":0.236,"e":-1.48},{"d":150,"f":0.248,"e":-1.33},{"d":150,"f":0.26,"e":-1.82},{"d":150,"f":0.272,"e":-1.58},{"d":150,"f":0.284,"e":-1.48},{"d":150,"f":0.296,"e":-1.99},{"d":150,"f":0.308,"e":-2.10},{"d":150,"f":0.32,"e":-1.93},{"d":150,"f":0.332,"e":-2.39},{"d":150,"f":0.344,"e":-2.02},{"d":150,"f":0.356,"e":-2.44},{"d":150,"f":0.368,"e":-2.27},{"d":150,"f":0.38,"e":-2.80},{"d":150,"f":0.392,"e":-2.52},{"d":150,"f":0.404,"e":-2.43},{"d":150,"f":0.416,"e":-2.88},{"d":150,"f":0.428,"e":-2.60},{"d":150,"f":0.44,"e":-2.88},{"d":150,"f":0.452,"e":-2.63},{"d":150,"f":0.464,"e":-3.25},{"d":150,"f":0.476,"e":-3.50},{"d":150,"f":0.488,"e":-3.60},{"d":150,"f":0.497,"e":-4.60},
{"d":130,"f":0.08,"e":-3.31},{"d":130,"f":0.092,"e":-3.41},{"d":130,"f":0.104,"e":-3.04},{"d":130,"f":0.116,"e":-2.56},{"d":130,"f":0.128,"e":-1.93},{"d":130,"f":0.14,"e":-1.27},{"d":130,"f":0.152,"e":-1.06},{"d":130,"f":0.164,"e":-1.00},{"d":130,"f":0.176,"e":-0.70},{"d":130,"f":0.188,"e":-0.75},{"d":130,"f":0.2,"e":-1.08},{"d":130,"f":0.212,"e":-0.85},{"d":130,"f":0.224,"e":-1.01},{"d":130,"f":0.236,"e":-1.43},{"d":130,"f":0.248,"e":-1.18},{"d":130,"f":0.26,"e":-1.33},{"d":130,"f":0.272,"e":-1.63},{"d":130,"f":0.284,"e":-1.81},{"d":130,"f":0.296,"e":-1.47},{"d":130,"f":0.308,"e":-1.79},{"d":130,"f":0.32,"e":-2.15},{"d":130,"f":0.332,"e":-1.94},{"d":130,"f":0.344,"e":-2.00},{"d":130,"f":0.356,"e":-2.43},{"d":130,"f":0.368,"e":-2.09},{"d":130,"f":0.38,"e":-2.49},{"d":130,"f":0.392,"e":-2.30},{"d":130,"f":0.404,"e":-2.58},{"d":130,"f":0.416,"e":-2.73},{"d":130,"f":0.428,"e":-2.38},{"d":130,"f":0.44,"e":-2.77},{"d":130,"f":0.452,"e":-3.25},{"d":130,"f":0.464,"e":-3.27},{"d":130,"f":0.476,"e":-3.93},{"d":130,"f":0.488,"e":-4.08},{"d":130,"f":0.497,"e":-4.83},
{"d":90,"f":0.08,"e":-3.12},{"d":90,"f":0.092,"e":-3.11},{"d":90,"f":0.104,"e":-2.82},{"d":90,"f":0.116,"e":-2.32},{"d":90,"f":0.128,"e":-1.64},{"d":90,"f":0.14,"e":-1.06},{"d":90,"f":0.152,"e":-0.94},{"d":90,"f":0.164,"e":-0.59},{"d":90,"f":0.176,"e":-0.43},{"d":90,"f":0.188,"e":-0.68},{"d":90,"f":0.2,"e":-0.59},{"d":90,"f":0.212,"e":-0.57},{"d":90,"f":0.224,"e":-0.94},{"d":90,"f":0.236,"e":-1.11},{"d":90,"f":0.248,"e":-0.86},{"d":90,"f":0.26,"e":-1.12},{"d":90,"f":0.272,"e":-1.44},{"d":90,"f":0.284,"e":-1.23},{"d":90,"f":0.296,"e":-1.26},{"d":90,"f":0.308,"e":-1.84},{"d":90,"f":0.32,"e":-1.75},{"d":90,"f":0.332,"e":-1.59},{"d":90,"f":0.344,"e":-2.05},{"d":90,"f":0.356,"e":-1.84},{"d":90,"f":0.368,"e":-1.80},{"d":90,"f":0.38,"e":-2.27},{"d":90,"f":0.392,"e":-2.38},{"d":90,"f":0.404,"e":-2.07},{"d":90,"f":0.416,"e":-2.27},{"d":90,"f":0.428,"e":-2.50},{"d":90,"f":0.44,"e":-2.28},{"d":90,"f":0.452,"e":-2.73},{"d":90,"f":0.464,"e":-2.75},{"d":90,"f":0.476,"e":-3.34},{"d":90,"f":0.488,"e":-3.47},{"d":90,"f":0.497,"e":-3.95},
{"d":70,"f":0.08,"e":-3.14},{"d":70,"f":0.092,"e":-3.27},{"d":70,"f":0.104,"e":-2.96},{"d":70,"f":0.116,"e":-2.36},{"d":70,"f":0.128,"e":-1.82},{"d":70,"f":0.14,"e":-1.20},{"d":70,"f":0.152,"e":-0.84},{"d":70,"f":0.164,"e":-0.81},{"d":70,"f":0.176,"e":-0.73},{"d":70,"f":0.188,"e":-0.48},{"d":70,"f":0.2,"e":-0.81},{"d":70,"f":0.212,"e":-0.97},{"d":70,"f":0.224,"e":-0.84},{"d":70,"f":0.236,"e":-0.91},{"d":70,"f":0.248,"e":-1.40},{"d":70,"f":0.26,"e":-1.38},{"d":70,"f":0.272,"e":-1.18},{"d":70,"f":0.284,"e":-1.63},{"d":70,"f":0.296,"e":-1.72},{"d":70,"f":0.308,"e":-1.50},{"d":70,"f":0.32,"e":-1.85},{"d":70,"f":0.332,"e":-2.13},{"d":70,"f":0.344,"e":-1.85},{"d":70,"f":0.356,"e":-2.18},{"d":70,"f":0.368,"e":-2.34},{"d":70,"f":0.38,"e":-2.07},{"d":70,"f":0.392,"e":-2.12},{"d":70,"f":0.404,"e":-2.53},{"d":70,"f":0.416,"e":-2.43},{"d":70,"f":0.428,"e":-2.30},{"d":70,"f":0.44,"e":-2.72},{"d":70,"f":0.452,"e":-2.47},{"d":70,"f":0.464,"e":-2.75},{"d":70,"f":0.476,"e":-2.48},{"d":70,"f":0.488,"e":-2.83},{"d":70,"f":0.497,"e":-3.05},
{"d":50,"f":0.08,"e":-2.80},{"d":50,"f":0.092,"e":-2.89},{"d":50,"f":0.104,"e":-2.63},{"d":50,"f":0.116,"e":-2.01},{"d":50,"f":0.128,"e":-1.38},{"d":50,"f":0.14,"e":-0.87},{"d":50,"f":0.152,"e":-0.47},{"d":50,"f":0.164,"e":-0.43},{"d":50,"f":0.176,"e":-0.38},{"d":50,"f":0.188,"e":-0.20},{"d":50,"f":0.2,"e":-0.25},{"d":50,"f":0.212,"e":-0.65},{"d":50,"f":0.224,"e":-0.51},{"d":50,"f":0.236,"e":-0.49},{"d":50,"f":0.248,"e":-0.91},{"d":50,"f":0.26,"e":-1.10},{"d":50,"f":0.272,"e":-0.83},{"d":50,"f":0.284,"e":-1.13},{"d":50,"f":0.296,"e":-1.41},{"d":50,"f":0.308,"e":-1.22},{"d":50,"f":0.32,"e":-1.42},{"d":50,"f":0.332,"e":-1.71},{"d":50,"f":0.344,"e":-1.43},{"d":50,"f":0.356,"e":-1.89},{"d":50,"f":0.368,"e":-1.74},{"d":50,"f":0.38,"e":-1.59},{"d":50,"f":0.392,"e":-2.07},{"d":50,"f":0.404,"e":-2.08},{"d":50,"f":0.416,"e":-1.87},{"d":50,"f":0.428,"e":-2.32},{"d":50,"f":0.44,"e":-2.00},{"d":50,"f":0.452,"e":-2.12},{"d":50,"f":0.464,"e":-2.43},{"d":50,"f":0.476,"e":-2.09},{"d":50,"f":0.488,"e":-2.48},{"d":50,"f":0.497,"e":-2.70},
{"d":40,"f":0.08,"e":-2.57},{"d":40,"f":0.092,"e":-2.56},{"d":40,"f":0.104,"e":-2.27},{"d":40,"f":0.116,"e":-1.77},{"d":40,"f":0.128,"e":-1.09},{"d":40,"f":0.14,"e":-0.51},{"d":40,"f":0.152,"e":-0.39},{"d":40,"f":0.164,"e":-0.04},{"d":40,"f":0.176,"e":0.12},{"d":40,"f":0.188,"e":-0.13},{"d":40,"f":0.2,"e":-0.04},{"d":40,"f":0.212,"e":-0.02},{"d":40,"f":0.224,"e":-0.39},{"d":40,"f":0.236,"e":-0.56},{"d":40,"f":0.248,"e":-0.31},{"d":40,"f":0.26,"e":-0.57},{"d":40,"f":0.272,"e":-0.89},{"d":40,"f":0.284,"e":-0.68},{"d":40,"f":0.296,"e":-0.71},{"d":40,"f":0.308,"e":-1.29},{"d":40,"f":0.32,"e":-1.20},{"d":40,"f":0.332,"e":-1.04},{"d":40,"f":0.344,"e":-1.50},{"d":40,"f":0.356,"e":-1.29},{"d":40,"f":0.368,"e":-1.25},{"d":40,"f":0.38,"e":-1.72},{"d":40,"f":0.392,"e":-1.83},{"d":40,"f":0.404,"e":-1.52},{"d":40,"f":0.416,"e":-1.72},{"d":40,"f":0.428,"e":-1.95},{"d":40,"f":0.44,"e":-1.63},{"d":40,"f":0.452,"e":-1.98},{"d":40,"f":0.464,"e":-1.80},{"d":40,"f":0.476,"e":-2.19},{"d":40,"f":0.488,"e":-2.02},{"d":40,"f":0.497,"e":-2.10},
{"d":20,"f":0.08,"e":-2.63},{"d":20,"f":0.092,"e":-2.75},{"d":20,"f":0.104,"e":-2.35},{"d":20,"f":0.116,"e":-1.82},{"d":20,"f":0.128,"e":-1.26},{"d":20,"f":0.14,"e":-0.57},{"d":20,"f":0.152,"e":-0.44},{"d":20,"f":0.164,"e":-0.08},{"d":20,"f":0.176,"e":-0.13},{"d":20,"f":0.188,"e":0.07},{"d":20,"f":0.2,"e":-0.35},{"d":20,"f":0.212,"e":-0.24},{"d":20,"f":0.224,"e":-0.17},{"d":20,"f":0.236,"e":-0.63},{"d":20,"f":0.248,"e":-0.48},{"d":20,"f":0.26,"e":-0.97},{"d":20,"f":0.272,"e":-0.73},{"d":20,"f":0.284,"e":-0.63},{"d":20,"f":0.296,"e":-1.14},{"d":20,"f":0.308,"e":-1.25},{"d":20,"f":0.32,"e":-1.08},{"d":20,"f":0.332,"e":-1.54},{"d":20,"f":0.344,"e":-1.17},{"d":20,"f":0.356,"e":-1.59},{"d":20,"f":0.368,"e":-1.42},{"d":20,"f":0.38,"e":-1.95},{"d":20,"f":0.392,"e":-1.67},{"d":20,"f":0.404,"e":-1.58},{"d":20,"f":0.416,"e":-2.03},{"d":20,"f":0.428,"e":-1.75},{"d":20,"f":0.44,"e":-2.03},{"d":20,"f":0.452,"e":-1.78},{"d":20,"f":0.464,"e":-2.20},{"d":20,"f":0.476,"e":-2.19},{"d":20,"f":0.488,"e":-2.02},{"d":20,"f":0.497,"e":-2.50},
{"d":10,"f":0.08,"e":-2.71},{"d":10,"f":0.092,"e":-2.81},{"d":10,"f":0.104,"e":-2.44},{"d":10,"f":0.116,"e":-1.96},{"d":10,"f":0.128,"e":-1.33},{"d":10,"f":0.14,"e":-0.67},{"d":10,"f":0.152,"e":-0.46},{"d":10,"f":0.164,"e":-0.40},{"d":10,"f":0.176,"e":-0.10},{"d":10,"f":0.188,"e":-0.15},{"d":10,"f":0.2,"e":-0.48},{"d":10,"f":0.212,"e":-0.25},{"d":10,"f":0.224,"e":-0.41},{"d":10,"f":0.236,"e":-0.83},{"d":10,"f":0.248,"e":-0.58},{"d":10,"f":0.26,"e":-0.73},{"d":10,"f":0.272,"e":-1.03},{"d":10,"f":0.284,"e":-1.21},{"d":10,"f":0.296,"e":-0.87},{"d":10,"f":0.308,"e":-1.19},{"d":10,"f":0.32,"e":-1.55},{"d":10,"f":0.332,"e":-1.34},{"d":10,"f":0.344,"e":-1.40},{"d":10,"f":0.356,"e":-1.83},{"d":10,"f":0.368,"e":-1.49},{"d":10,"f":0.38,"e":-1.89},{"d":10,"f":0.392,"e":-1.70},{"d":10,"f":0.404,"e":-1.98},{"d":10,"f":0.416,"e":-2.13},{"d":10,"f":0.428,"e":-1.78},{"d":10,"f":0.44,"e":-1.97},{"d":10,"f":0.452,"e":-2.25},{"d":10,"f":0.464,"e":-1.97},{"d":10,"f":0.476,"e":-2.33},{"d":10,"f":0.488,"e":-2.08},{"d":10,"f":0.497,"e":-2.63},
{"d":0,"f":0.08,"e":-2.43},{"d":0,"f":0.092,"e":-2.44},{"d":0,"f":0.104,"e":-2.22},{"d":0,"f":0.116,"e":-1.64},{"d":0,"f":0.128,"e":-1.01},{"d":0,"f":0.14,"e":-0.48},{"d":0,"f":0.152,"e":-0.11},{"d":0,"f":0.164,"e":-0.06},{"d":0,"f":0.176,"e":0.24},{"d":0,"f":0.188,"e":0.02},{"d":0,"f":0.2,"e":0.08},{"d":0,"f":0.212,"e":0.11},{"d":0,"f":0.224,"e":-0.34},{"d":0,"f":0.236,"e":-0.21},{"d":0,"f":0.248,"e":-0.63},{"d":0,"f":0.26,"e":-0.40},{"d":0,"f":0.272,"e":-0.39},{"d":0,"f":0.284,"e":-0.88},{"d":0,"f":0.296,"e":-0.71},{"d":0,"f":0.308,"e":-0.69},{"d":0,"f":0.32,"e":-1.28},{"d":0,"f":0.332,"e":-1.01},{"d":0,"f":0.344,"e":-1.37},{"d":0,"f":0.356,"e":-1.01},{"d":0,"f":0.368,"e":-1.59},{"d":0,"f":0.38,"e":-1.39},{"d":0,"f":0.392,"e":-1.35},{"d":0,"f":0.404,"e":-1.75},{"d":0,"f":0.416,"e":-1.43},{"d":0,"f":0.428,"e":-1.78},{"d":0,"f":0.44,"e":-1.60},{"d":0,"f":0.452,"e":-2.02},{"d":0,"f":0.464,"e":-1.73},{"d":0,"f":0.476,"e":-1.71},{"d":0,"f":0.488,"e":-2.15},{"d":0,"f":0.497,"e":-2.07}
]
},
"spacing": 47,
"bounds": "flush",
"hconcat": [
{
  "width": 653,
  "height": 660,
  "layer": [
    {
      "data": {"name": "band"},
      "mark": {"type": "area", "color": "#0000ff", "clip": true},
      "encoding": {
        "x": {"field": "f", "type": "quantitative", "scale": {"type": "log", "domain": [0.08, 0.5], "nice": false},
              "axis": {"orient": "bottom", "values": [0.1, 0.15, 0.2, 0.25, 0.3, 0.35, 0.4, 0.45], "labelExpr": "datum.value == 0.2 ? '0.2' : datum.value == 0.4 ? '0.4' : ''", "tickSize": -8, "labelPadding": 43, "labelFontSize": 66, "title": "Frequency [Hz]", "titleFontSize": 73, "titlePadding": 19}},
        "y": {"field": "hi", "type": "quantitative", "scale": {"domain": [-7, 1], "nice": false, "zero": false},
              "axis": {"orient": "left", "values": [-7, -6, -5, -4, -3, -2, -1, 0, 1], "labelExpr": "datum.value == 0 ? '10⁰' : datum.value == -5 ? '10⁻⁵' : ''", "tickSize": -9, "labelPadding": 38, "labelOffset": 14, "labelFontSize": 66, "title": "Wave energy [m²/Hz]", "titleFontSize": 73, "titlePadding": 15}},
        "y2": {"field": "lo"}
      }
    },
    {
      "data": {"name": "spectra"},
      "mark": {"type": "line", "strokeWidth": 9, "strokeJoin": "round", "strokeCap": "round", "clip": true},
      "encoding": {
        "x": {"field": "f", "type": "quantitative",
              "axis": {"orient": "top", "values": [0.1, 0.15, 0.2, 0.25, 0.3, 0.35, 0.4, 0.45], "labels": false, "tickSize": -8, "title": null}},
        "y": {"field": "e", "type": "quantitative",
              "axis": {"orient": "right", "values": [-7, -6, -5, -4, -3, -2, -1, 0, 1], "labels": false, "tickSize": -9, "title": null}},
        "color": {"field": "d", "type": "quantitative", "scale": {"domain": [0, 1500], "range": ["#00ffff", "#ff00ff"], "interpolate": "rgb"}, "legend": null},
        "detail": {"field": "d", "type": "quantitative"}
      }
    }
  ],
  "resolve": {"axis": {"x": "independent", "y": "independent"}}
},
{
  "width": 98,
  "height": 660,
  "data": {"name": "bar"},
  "mark": {"type": "rect", "fill": {"gradient": "linear", "x1": 0, "y1": 1, "x2": 0, "y2": 0, "stops": [{"offset": 0, "color": "#00ffff"}, {"offset": 1, "color": "#ff00ff"}]}, "stroke": "#262626", "strokeWidth": 2},
  "encoding": {
    "x": {"datum": 0, "type": "quantitative", "scale": {"domain": [0, 1], "nice": false, "zero": false}, "axis": null},
    "x2": {"datum": 1},
    "y": {"field": "lo", "type": "quantitative", "scale": {"domain": [0, 1500], "nice": false},
          "axis": {"orient": "right", "values": [0, 500, 1000, 1500], "format": "d", "domain": false, "tickSize": -8, "labelAlign": "center", "labelBaseline": "middle", "labelOffset": 7, "labelPadding": 92, "labelFontSize": 58, "title": "Distance into the sea ice", "titleFont": "Lato", "titleFontSize": 48, "titleColor": "black", "titleAngle": 270, "titleBaseline": "top", "titlePadding": 55}},
    "y2": {"field": "hi"}
  }
}
]
}
